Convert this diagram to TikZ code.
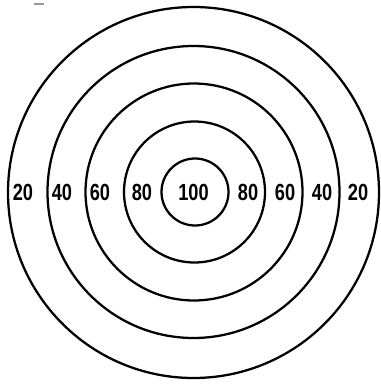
\documentclass[tikz,border=0pt]{standalone}
\usepackage{fontspec}
\setmainfont{Liberation Sans}

\tikzset{every picture/.style={line width=0.75pt}}
\tikzset{ring/.style={line width=1.7pt},
  score/.style={inner sep=0.75pt, font=\fontsize{17.5}{20}\selectfont\bfseries, xscale=0.78}}

\begin{document}
\begin{tikzpicture}[x=0.75pt,y=0.75pt,yscale=-1,xscale=1]
%set diagram left start at 0, and has height of 385
\useasboundingbox (0,0) rectangle (381,385);
%Shape: Circle [id:outer] 
\draw [ring] (193.5,192.5) circle (185.5);
%Shape: Circle [id:ring40] 
\draw [ring] (193.5,192) circle (146);
%Shape: Circle [id:ring60] 
\draw [ring] (194,192) circle (108.5);
%Shape: Circle [id:ring80] 
\draw [ring] (194.5,192) circle (70.5);
%Shape: Circle [id:bull] 
\draw [ring] (195,192) circle (33.5);
%Straight Lines [id:speck] 
\draw [color={rgb, 255:red, 150; green, 150; blue, 150 }, line width=1pt] (34,4) -- (44,4) ;
% Text Node
\node [score] (l20) at (23,192) {20};
% Text Node
\node [score] (l40) at (62,192) {40};
% Text Node
\node [score] (l60) at (100,192) {60};
% Text Node
\node [score] (l80) at (142,192) {80};
% Text Node
\node [score] (c100) at (193.5,192) {100};
% Text Node
\node [score] (r80) at (248,192) {80};
% Text Node
\node [score] (r60) at (285,192) {60};
% Text Node
\node [score] (r40) at (322,192) {40};
% Text Node
\node [score] (r20) at (358,192) {20};

\end{tikzpicture}
\end{document}
